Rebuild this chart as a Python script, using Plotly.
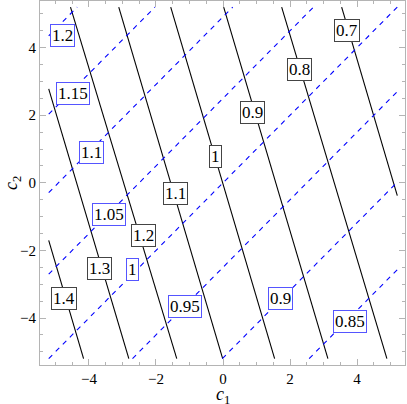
import plotly.graph_objects as go

# Black (solid) contour lines: levels and endpoints
black_levels = [1.4, 1.3, 1.2, 1.1, 1.0, 0.9, 0.8, 0.7]
black_x0 = [-5.2, -5.2, -4.55, -3.11, -1.56, 0.02, 1.75, 3.54]
black_y0 = [-1.7, 2.78, 5.2, 5.2, 5.2, 5.2, 5.2, 5.2]
black_x1 = [-4.16, -2.81, -1.38, -0.01, 1.54, 3.13, 4.89, 5.2]
black_y1 = [-5.2, -5.2, -5.2, -5.2, -5.2, -5.2, -5.2, -0.38]
black_lab_x = [-4.73, -3.68, -2.38, -1.41, -0.22, 0.89, 2.27, 3.71]
black_lab_y = [-3.41, -2.53, -1.55, -0.33, 0.79, 2.09, 3.35, 4.52]
black_text = ["1.4", "1.3", "1.2", "1.1", "1", "0.9", "0.8", "0.7"]

# Blue (dashed) contour lines
blue_levels = [1.2, 1.15, 1.1, 1.05, 1.0, 0.95, 0.9, 0.85]
blue_x0 = [-5.2, -5.2, -5.2, -5.2, -5.2, -2.7, -0.02, 2.57]
blue_y0 = [4.35, 2.03, -0.29, -2.7, -5.2, -5.2, -5.2, -5.2]
blue_x1 = [-4.35, -2.03, 0.29, 2.7, 5.2, 5.2, 5.2, 5.2]
blue_y1 = [5.2, 5.2, 5.2, 5.2, 5.2, 2.7, 0.02, -2.57]
blue_lab_x = [-4.78, -4.49, -3.93, -3.41, -2.69, -1.14, 1.71, 3.78]
blue_lab_y = [4.35, 2.65, 0.89, -0.94, -2.56, -3.66, -3.43, -4.09]
blue_text = ["1.2", "1.15", "1.1", "1.05", "1", "0.95", "0.9", "0.85"]

SERIF = "Liberation Serif"

fig = go.Figure()

for i in range(len(black_levels)):
    fig.add_trace(go.Scatter(x=[black_x0[i], black_x1[i]], y=[black_y0[i], black_y1[i]],
                             mode="lines", line=dict(color="black", width=1.1),
                             showlegend=False, hoverinfo="skip"))
for i in range(len(blue_levels)):
    fig.add_trace(go.Scatter(x=[blue_x0[i], blue_x1[i]], y=[blue_y0[i], blue_y1[i]],
                             mode="lines", line=dict(color="#0000ff", width=1.1, dash="5px,5px"),
                             showlegend=False, hoverinfo="skip"))

font_lab = dict(family=SERIF, size=17, color="black")
for i in range(len(black_text)):
    fig.add_annotation(x=black_lab_x[i], y=black_lab_y[i], text=black_text[i],
                       showarrow=False, font=font_lab, bgcolor="white",
                       bordercolor="#444444", borderwidth=1, borderpad=1)
for i in range(len(blue_text)):
    fig.add_annotation(x=blue_lab_x[i], y=blue_lab_y[i], text=blue_text[i],
                       showarrow=False, font=font_lab, bgcolor="white",
                       bordercolor="#5555ff", borderwidth=1, borderpad=1)

# axis titles as annotations for precise placement
fig.add_annotation(xref="paper", yref="paper", x=0.5, y=-0.047, yanchor="top",
                   text="<i>c</i><sub>1</sub>", showarrow=False,
                   font=dict(family=SERIF, size=18, color="black"))
fig.add_annotation(xref="paper", yref="paper", x=-0.077, y=0.5, xanchor="center",
                   text="<i>c</i><sub>2</sub>", showarrow=False, textangle=-90,
                   font=dict(family=SERIF, size=18, color="black"))

axis_common = dict(
    showgrid=False, zeroline=False, showline=True, linecolor="#b4b4b4", linewidth=1,
    mirror="allticks", ticks="inside", ticklen=6, tickcolor="#b4b4b4", tickwidth=1,
    tickvals=[-4, -2, 0, 2, 4], ticktext=["\u22124", "\u22122", "0", "2", "4"],
    tickfont=dict(family=SERIF, size=15, color="black"),
    minor=dict(dtick=0.5, tick0=0, ticks="inside", ticklen=3, tickcolor="#b4b4b4", tickwidth=1),
    automargin=False,
)

fig.update_xaxes(range=[-5.46, 5.43], **axis_common)
fig.update_yaxes(range=[-5.39, 5.38], **axis_common)

fig.update_layout(width=407, height=404, margin=dict(l=40, r=2, t=1, b=39),
                  plot_bgcolor="white", paper_bgcolor="white")

fig.write_html("out.html", config={"displayModeBar": False},
               post_script="document.body.style.margin='0';")
